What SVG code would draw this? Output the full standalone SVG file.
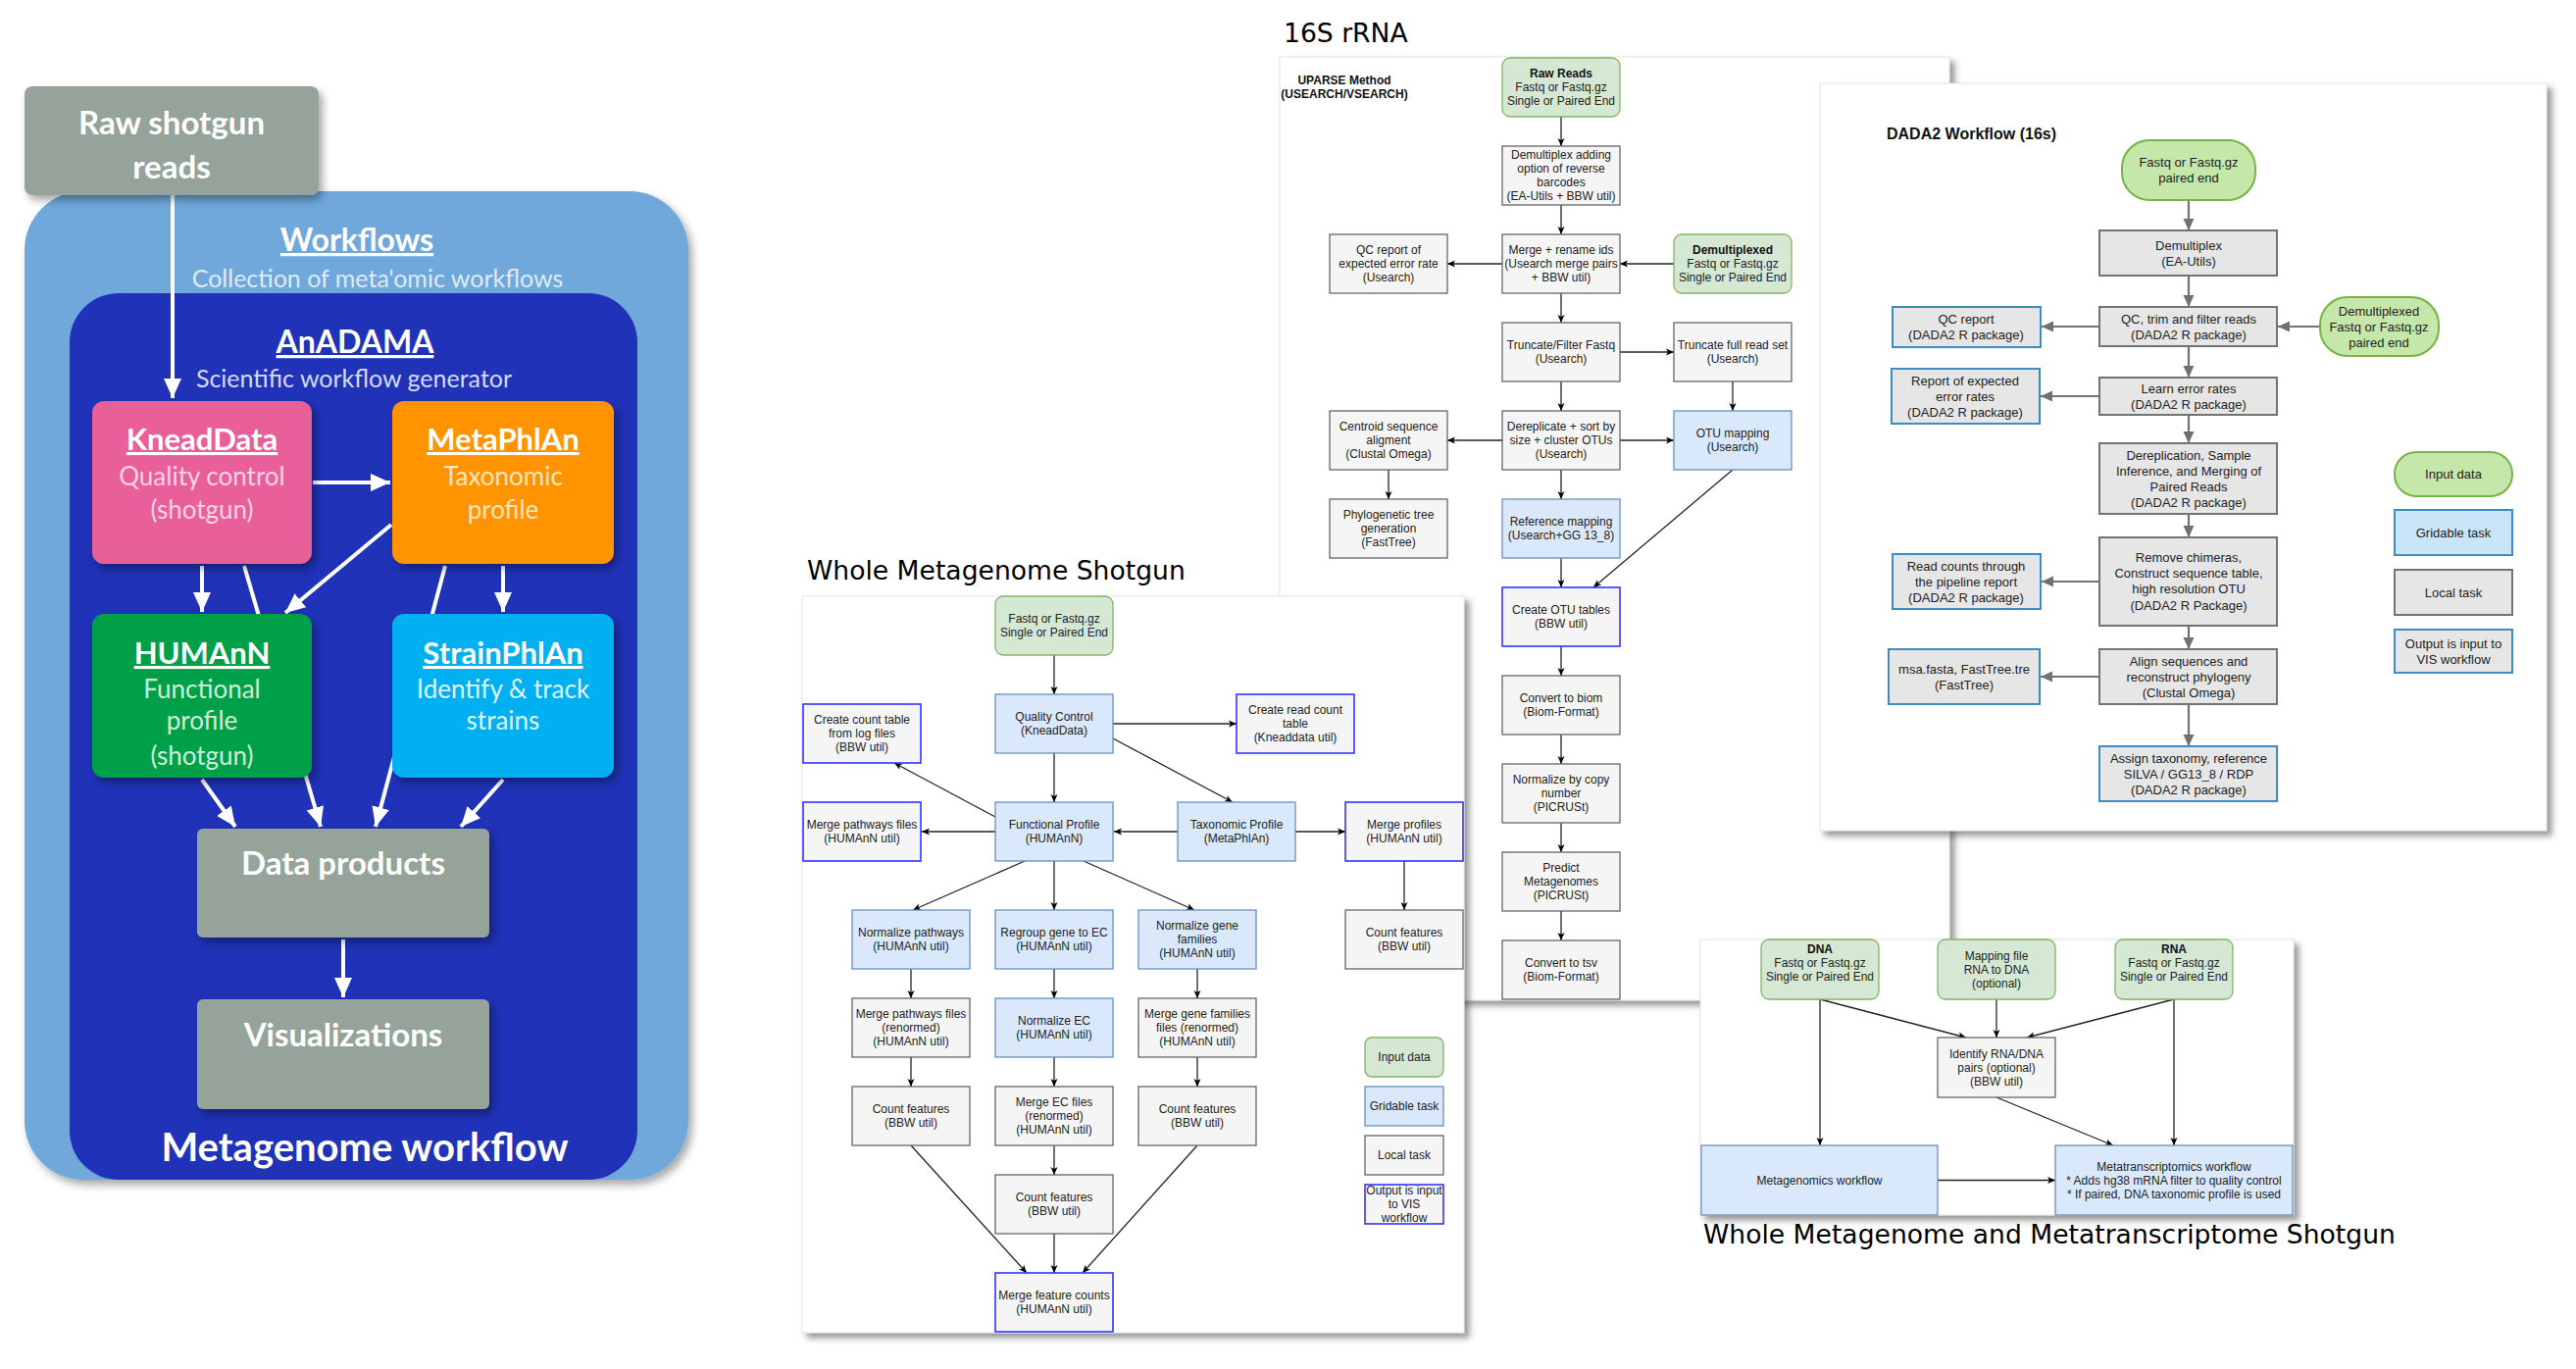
<svg xmlns="http://www.w3.org/2000/svg" width="2627" height="1396" viewBox="0 0 2627 1396">
<defs>
<style>
.L{font-family:Lato,"Open Sans","Liberation Sans",sans-serif;text-anchor:middle}
.Lb{font-family:Lato,"Open Sans","Liberation Sans",sans-serif;text-anchor:middle;font-weight:bold;fill:#fff}
.ttl{font-family:"DejaVu Sans",sans-serif;font-size:26.6px;fill:#000}
.t{font-family:"Liberation Sans",Arial,sans-serif;font-size:12px;fill:#222;text-anchor:middle}
.tb{font-family:"Liberation Sans",Arial,sans-serif;font-size:12px;fill:#111;text-anchor:middle;font-weight:bold}
.d{font-family:"Liberation Sans",Arial,sans-serif;font-size:13px;fill:#222;text-anchor:middle}
.gr{fill:#d5e8d4;stroke:#82b366;stroke-width:1.3}
.bl{fill:#dae8fc;stroke:#6c8ebf;stroke-width:1.3}
.gy{fill:#f5f5f5;stroke:#666;stroke-width:1.3}
.hb{fill:#f5f5f5;stroke:#3333ff;stroke-width:1.6}
.ln{stroke:#222;stroke-width:1.3;fill:none;marker-end:url(#ab)}
.dgy{fill:#e6e6e6;stroke:#737373;stroke-width:2}
.dhb{fill:#e6e6e6;stroke:#3d8dc4;stroke-width:2}
.dgr{fill:#c5e7a9;stroke:#77b445;stroke-width:2}
.dbl{fill:#c8e6f8;stroke:#3d8dc4;stroke-width:2}
.dln{stroke:#737373;stroke-width:2.2;fill:none;marker-end:url(#ag)}
.wl{stroke:#fff;stroke-width:4;fill:none}
.panel{fill:#fff;stroke:#e4e4e4;stroke-width:1;filter:url(#ps)}
</style>
<filter id="ps" x="-5%" y="-5%" width="112%" height="112%"><feDropShadow dx="5" dy="5" stdDeviation="3" flood-color="#444" flood-opacity="0.55"/></filter>
<filter id="ls" x="-10%" y="-10%" width="125%" height="125%"><feDropShadow dx="4" dy="5" stdDeviation="4" flood-color="#000" flood-opacity="0.35"/></filter>
<marker id="aw" viewBox="0 0 20 18" refX="20" refY="9" markerWidth="20" markerHeight="18" markerUnits="userSpaceOnUse" orient="auto"><path d="M0,0 L20,9 L0,18 Z" fill="#fff"/></marker>
<marker id="ab" viewBox="0 0 8 8" refX="8" refY="4" markerWidth="8" markerHeight="8" markerUnits="userSpaceOnUse" orient="auto"><path d="M0,0.5 L8,4 L0,7.5 L2,4 Z" fill="#000"/></marker>
<marker id="ag" viewBox="0 0 12 12" refX="12" refY="6" markerWidth="12" markerHeight="12" markerUnits="userSpaceOnUse" orient="auto"><path d="M0,0.5 L12,6 L0,11.5 Z" fill="#707070"/></marker>
</defs>
<rect width="2627" height="1396" fill="#fff"/>

<!-- ===== Left: Metagenome workflow ===== -->
<g id="left-containers">
<rect x="25" y="195" width="677" height="1008" rx="60" fill="#6fa8dc" filter="url(#ls)"/>
<rect x="71" y="299" width="579" height="904" rx="50" fill="#1f32b8"/>
<text class="Lb" x="364" y="256" font-size="32" text-decoration="underline">Workflows</text>
<text class="L" x="385" y="293" font-size="25" fill="#ddebf7">Collection of meta'omic workflows</text>
<text class="Lb" x="362" y="360" font-size="32" text-decoration="underline">AnADAMA</text>
<text class="L" x="361" y="395" font-size="25" fill="#d5dbf6">Scientific workflow generator</text>
<text class="Lb" x="372" y="1184" font-size="40">Metagenome workflow</text>
</g>
<g id="left-connectors">
<path class="wl" d="M176,199 V406" marker-end="url(#aw)"/>
<path class="wl" d="M319,492 H398" marker-end="url(#aw)"/>
<path class="wl" d="M206,577 V624" marker-end="url(#aw)"/>
<path class="wl" d="M249,577 L327,843" marker-end="url(#aw)"/>
<path class="wl" d="M399,535 L291,625" marker-end="url(#aw)"/>
<path class="wl" d="M454,577 L383,843" marker-end="url(#aw)"/>
<path class="wl" d="M513,577 V624" marker-end="url(#aw)"/>
<path class="wl" d="M206,795 L240,843" marker-end="url(#aw)"/>
<path class="wl" d="M513,795 L470,843" marker-end="url(#aw)"/>
<path class="wl" d="M350,958 V1017" marker-end="url(#aw)"/>
</g>
<g id="raw-reads">
<rect x="25" y="88" width="300" height="111" rx="8" fill="#95a39b" filter="url(#ls)"/>
<text class="Lb" x="175" y="137" font-size="33">Raw shotgun</text>
<text class="Lb" x="175" y="182" font-size="33">reads</text>
</g>
<g id="kneaddata">
<rect x="94" y="409" width="224" height="166" rx="12" fill="#e85e9a" filter="url(#ls)"/>
<text class="Lb" x="206" y="459" font-size="31" text-decoration="underline">KneadData</text>
<text class="L" x="206" y="495" font-size="26" fill="#fad3e4">Quality control</text>
<text class="L" x="206" y="529" font-size="26" fill="#fad3e4">(shotgun)</text>
</g>
<g id="metaphlan">
<rect x="400" y="409" width="226" height="166" rx="12" fill="#ff9400" filter="url(#ls)"/>
<text class="Lb" x="513" y="459" font-size="31" text-decoration="underline">MetaPhlAn</text>
<text class="L" x="513" y="495" font-size="26" fill="#ffe4bf">Taxonomic</text>
<text class="L" x="513" y="529" font-size="26" fill="#ffe4bf">profile</text>
</g>
<g id="humann">
<rect x="94" y="626" width="224" height="167" rx="12" fill="#00a04a" filter="url(#ls)"/>
<text class="Lb" x="206" y="677" font-size="31" text-decoration="underline">HUMAnN</text>
<text class="L" x="206" y="712" font-size="26" fill="#cfefda">Functional</text>
<text class="L" x="206" y="744" font-size="26" fill="#cfefda">profile</text>
<text class="L" x="206" y="780" font-size="26" fill="#cfefda">(shotgun)</text>
</g>
<g id="strainphlan">
<rect x="400" y="626" width="226" height="167" rx="12" fill="#00b0f0" filter="url(#ls)"/>
<text class="Lb" x="513" y="677" font-size="31" text-decoration="underline">StrainPhlAn</text>
<text class="L" x="513" y="712" font-size="26" fill="#dff5fd">Identify &amp; track</text>
<text class="L" x="513" y="744" font-size="26" fill="#dff5fd">strains</text>
</g>
<g id="data-products">
<rect x="201" y="845" width="298" height="111" rx="6" fill="#95a39b" filter="url(#ls)"/>
<text class="Lb" x="350" y="892" font-size="33">Data products</text>
</g>
<g id="visualizations">
<rect x="201" y="1019" width="298" height="112" rx="6" fill="#95a39b" filter="url(#ls)"/>
<text class="Lb" x="350" y="1067" font-size="33">Visualizations</text>
</g>

<!-- ===== Titles ===== -->
<text class="ttl" x="1309" y="43">16S rRNA</text>
<text class="ttl" x="823" y="591">Whole Metagenome Shotgun</text>
<text class="ttl" x="1737" y="1268">Whole Metagenome and Metatranscriptome Shotgun</text>

<!-- ===== 16S UPARSE panel ===== -->
<rect class="panel" x="1305" y="58" width="683" height="962"/>
<text class="tb" x="1371" y="86">UPARSE Method</text>
<text class="tb" x="1371" y="100">(USEARCH/VSEARCH)</text>
<g id="s16-connectors">
<path class="ln" d="M1592,119 V149"/>
<path class="ln" d="M1592,209 V239"/>
<path class="ln" d="M1532,269 H1476"/>
<path class="ln" d="M1707,269 H1652"/>
<path class="ln" d="M1592,299 V329"/>
<path class="ln" d="M1652,359 H1707"/>
<path class="ln" d="M1592,389 V419"/>
<path class="ln" d="M1767,389 V419"/>
<path class="ln" d="M1532,449 H1476"/>
<path class="ln" d="M1652,449 H1707"/>
<path class="ln" d="M1416,479 V509"/>
<path class="ln" d="M1592,479 V509"/>
<path class="ln" d="M1767,479 L1625,599"/>
<path class="ln" d="M1592,569 V599"/>
<path class="ln" d="M1592,659 V689"/>
<path class="ln" d="M1592,749 V779"/>
<path class="ln" d="M1592,839 V869"/>
<path class="ln" d="M1592,929 V959"/>
</g>
<g id="s16-raw"><rect class="gr" x="1532" y="59" width="120" height="60" rx="8"/><text class="tb" x="1592" y="79.3">Raw Reads</text><text class="t" x="1592" y="93.3">Fastq or Fastq.gz</text><text class="t" x="1592" y="107.3">Single or Paired End</text></g>
<g id="s16-demux"><rect class="gy" x="1532" y="149" width="120" height="60"/><text class="t" x="1592" y="162.3">Demultiplex adding</text><text class="t" x="1592" y="176.3">option of reverse</text><text class="t" x="1592" y="190.3">barcodes</text><text class="t" x="1592" y="204.3">(EA-Utils + BBW util)</text></g>
<g id="s16-merge"><rect class="gy" x="1532" y="239" width="120" height="60"/><text class="t" x="1592" y="259.3">Merge + rename ids</text><text class="t" x="1592" y="273.3">(Usearch merge pairs</text><text class="t" x="1592" y="287.3">+ BBW util)</text></g>
<g id="s16-qcreport"><rect class="gy" x="1356" y="239" width="120" height="60"/><text class="t" x="1416" y="259.3">QC report of</text><text class="t" x="1416" y="273.3">expected error rate</text><text class="t" x="1416" y="287.3">(Usearch)</text></g>
<g id="s16-demuxed"><rect class="gr" x="1707" y="239" width="120" height="60" rx="8"/><text class="tb" x="1767" y="259.3">Demultiplexed</text><text class="t" x="1767" y="273.3">Fastq or Fastq.gz</text><text class="t" x="1767" y="287.3">Single or Paired End</text></g>
<g id="s16-trunc"><rect class="gy" x="1532" y="329" width="120" height="60"/><text class="t" x="1592" y="356.3">Truncate/Filter Fastq</text><text class="t" x="1592" y="370.3">(Usearch)</text></g>
<g id="s16-truncfull"><rect class="gy" x="1707" y="329" width="120" height="60"/><text class="t" x="1767" y="356.3">Truncate full read set</text><text class="t" x="1767" y="370.3">(Usearch)</text></g>
<g id="s16-derep"><rect class="gy" x="1532" y="419" width="120" height="60"/><text class="t" x="1592" y="439.3">Dereplicate + sort by</text><text class="t" x="1592" y="453.3">size + cluster OTUs</text><text class="t" x="1592" y="467.3">(Usearch)</text></g>
<g id="s16-centroid"><rect class="gy" x="1356" y="419" width="120" height="60"/><text class="t" x="1416" y="439.3">Centroid sequence</text><text class="t" x="1416" y="453.3">aligment</text><text class="t" x="1416" y="467.3">(Clustal Omega)</text></g>
<g id="s16-otumap"><rect class="bl" x="1707" y="419" width="120" height="60"/><text class="t" x="1767" y="446.3">OTU mapping</text><text class="t" x="1767" y="460.3">(Usearch)</text></g>
<g id="s16-phylo"><rect class="gy" x="1356" y="509" width="120" height="60"/><text class="t" x="1416" y="529.3">Phylogenetic tree</text><text class="t" x="1416" y="543.3">generation</text><text class="t" x="1416" y="557.3">(FastTree)</text></g>
<g id="s16-refmap"><rect class="bl" x="1532" y="509" width="120" height="60"/><text class="t" x="1592" y="536.3">Reference mapping</text><text class="t" x="1592" y="550.3">(Usearch+GG 13_8)</text></g>
<g id="s16-otutab"><rect class="hb" x="1532" y="599" width="120" height="60"/><text class="t" x="1592" y="626.3">Create OTU tables</text><text class="t" x="1592" y="640.3">(BBW util)</text></g>
<g id="s16-biom"><rect class="gy" x="1532" y="689" width="120" height="60"/><text class="t" x="1592" y="716.3">Convert to biom</text><text class="t" x="1592" y="730.3">(Biom-Format)</text></g>
<g id="s16-norm"><rect class="gy" x="1532" y="779" width="120" height="60"/><text class="t" x="1592" y="799.3">Normalize by copy</text><text class="t" x="1592" y="813.3">number</text><text class="t" x="1592" y="827.3">(PICRUSt)</text></g>
<g id="s16-predict"><rect class="gy" x="1532" y="869" width="120" height="60"/><text class="t" x="1592" y="889.3">Predict</text><text class="t" x="1592" y="903.3">Metagenomes</text><text class="t" x="1592" y="917.3">(PICRUSt)</text></g>
<g id="s16-tsv"><rect class="gy" x="1532" y="959" width="120" height="60"/><text class="t" x="1592" y="986.3">Convert to tsv</text><text class="t" x="1592" y="1000.3">(Biom-Format)</text></g>

<!-- ===== DADA2 panel ===== -->
<rect class="panel" x="1856" y="85" width="741" height="762"/>
<text x="1924" y="142" font-family="Liberation Sans, Arial, sans-serif" font-size="16" font-weight="bold" fill="#111">DADA2 Workflow (16s)</text>
<g id="dada2-connectors">
<path class="dln" d="M2232,204 V235"/>
<path class="dln" d="M2232,281 V313"/>
<path class="dln" d="M2141,333 H2082"/>
<path class="dln" d="M2366,333 H2323"/>
<path class="dln" d="M2232,353 V385"/>
<path class="dln" d="M2141,404 H2081"/>
<path class="dln" d="M2232,423 V452"/>
<path class="dln" d="M2232,524 V548"/>
<path class="dln" d="M2141,593 H2082"/>
<path class="dln" d="M2232,638 V662"/>
<path class="dln" d="M2141,690 H2081"/>
<path class="dln" d="M2232,718 V761"/>
</g>
<g id="d-fastq"><rect class="dgr" x="2164" y="143" width="136" height="61" rx="28"/><text class="d" x="2232" y="170">Fastq or Fastq.gz</text><text class="d" x="2232" y="186">paired end</text></g>
<g id="d-demux"><rect class="dgy" x="2141" y="235" width="181" height="46"/><text class="d" x="2232" y="254.5">Demultiplex</text><text class="d" x="2232" y="270.5">(EA-Utils)</text></g>
<g id="d-qctrim"><rect class="dgy" x="2141" y="313" width="181" height="40"/><text class="d" x="2232" y="329.5">QC, trim and filter reads</text><text class="d" x="2232" y="345.5">(DADA2 R package)</text></g>
<g id="d-qcreport"><rect class="dhb" x="1930" y="313" width="151" height="41"/><text class="d" x="2005" y="329.5">QC report</text><text class="d" x="2005" y="345.5">(DADA2 R package)</text></g>
<g id="d-demuxed"><rect class="dgr" x="2366" y="303" width="121" height="60" rx="28"/><text class="d" x="2426" y="321.5">Demultiplexed</text><text class="d" x="2426" y="337.5">Fastq or Fastq.gz</text><text class="d" x="2426" y="353.5">paired end</text></g>
<g id="d-learn"><rect class="dgy" x="2141" y="385" width="181" height="38"/><text class="d" x="2232" y="400.5">Learn error rates</text><text class="d" x="2232" y="416.5">(DADA2 R package)</text></g>
<g id="d-report"><rect class="dhb" x="1929" y="376" width="151" height="56"/><text class="d" x="2004" y="392.5">Report of expected</text><text class="d" x="2004" y="408.5">error rates</text><text class="d" x="2004" y="424.5">(DADA2 R package)</text></g>
<g id="d-derep"><rect class="dgy" x="2141" y="452" width="181" height="72"/><text class="d" x="2232" y="468.5">Dereplication, Sample</text><text class="d" x="2232" y="484.5">Inference, and Merging of</text><text class="d" x="2232" y="500.5">Paired Reads</text><text class="d" x="2232" y="516.5">(DADA2 R package)</text></g>
<g id="d-chimeras"><rect class="dgy" x="2141" y="548" width="181" height="90"/><text class="d" x="2232" y="572.5">Remove chimeras,</text><text class="d" x="2232" y="588.5">Construct sequence table,</text><text class="d" x="2232" y="604.5">high resolution OTU</text><text class="d" x="2232" y="621.5">(DADA2 R Package)</text></g>
<g id="d-readcounts"><rect class="dhb" x="1930" y="565" width="151" height="56"/><text class="d" x="2005" y="581.5">Read counts through</text><text class="d" x="2005" y="597.5">the pipeline report</text><text class="d" x="2005" y="613.5">(DADA2 R package)</text></g>
<g id="d-align"><rect class="dgy" x="2141" y="662" width="181" height="56"/><text class="d" x="2232" y="678.5">Align sequences and</text><text class="d" x="2232" y="694.5">reconstruct phylogeny</text><text class="d" x="2232" y="710.5">(Clustal Omega)</text></g>
<g id="d-msa"><rect class="dhb" x="1926" y="662" width="154" height="56"/><text class="d" x="2003" y="686.5">msa.fasta, FastTree.tre</text><text class="d" x="2003" y="702.5">(FastTree)</text></g>
<g id="d-assign"><rect class="dhb" x="2141" y="761" width="181" height="56"/><text class="d" x="2232" y="777.5">Assign taxonomy, reference</text><text class="d" x="2232" y="793.5">SILVA / GG13_8 / RDP</text><text class="d" x="2232" y="809.5">(DADA2 R package)</text></g>
<g id="d-legend-input"><rect class="dgr" x="2442" y="461" width="120" height="45" rx="22"/><text class="d" x="2502" y="488">Input data</text></g>
<g id="d-legend-grid"><rect class="dbl" x="2442" y="520" width="120" height="46"/><text class="d" x="2502" y="547.5">Gridable task</text></g>
<g id="d-legend-local"><rect class="dgy" x="2442" y="581" width="120" height="46"/><text class="d" x="2502" y="608.5">Local task</text></g>
<g id="d-legend-vis"><rect class="dhb" x="2442" y="642" width="120" height="44"/><text class="d" x="2502" y="660.5">Output is input to</text><text class="d" x="2502" y="676.5">VIS workflow</text></g>

<!-- ===== Metatranscriptome panel ===== -->
<rect class="panel" x="1734" y="958" width="605" height="281"/>
<g id="mtx-connectors">
<path class="ln" d="M1856,1019 V1168"/>
<path class="ln" d="M1856,1019 L2005,1058"/>
<path class="ln" d="M2036,1019 V1058"/>
<path class="ln" d="M2217,1019 L2067,1058"/>
<path class="ln" d="M2217,1019 V1168"/>
<path class="ln" d="M2036,1119 L2155,1168"/>
<path class="ln" d="M1976,1203.5 H2096"/>
</g>
<g id="mtx-dna"><rect class="gr" x="1796" y="958" width="120" height="61" rx="8"/><text class="tb" x="1856" y="971.8">DNA</text><text class="t" x="1856" y="985.8">Fastq or Fastq.gz</text><text class="t" x="1856" y="999.8">Single or Paired End</text></g>
<g id="mtx-mapping"><rect class="gr" x="1976" y="958" width="120" height="61" rx="8"/><text class="t" x="2036" y="978.8">Mapping file</text><text class="t" x="2036" y="992.8">RNA to DNA</text><text class="t" x="2036" y="1006.8">(optional)</text></g>
<g id="mtx-rna"><rect class="gr" x="2157" y="958" width="120" height="61" rx="8"/><text class="tb" x="2217" y="971.8">RNA</text><text class="t" x="2217" y="985.8">Fastq or Fastq.gz</text><text class="t" x="2217" y="999.8">Single or Paired End</text></g>
<g id="mtx-identify"><rect class="gy" x="1976" y="1058" width="120" height="61"/><text class="t" x="2036" y="1078.8">Identify RNA/DNA</text><text class="t" x="2036" y="1092.8">pairs (optional)</text><text class="t" x="2036" y="1106.8">(BBW util)</text></g>
<g id="mtx-metagenomics"><rect class="bl" x="1735" y="1168" width="241" height="71"/><text class="t" x="1855.5" y="1207.8">Metagenomics workflow</text></g>
<g id="mtx-metatranscriptomics"><rect class="bl" x="2096" y="1168" width="242" height="71"/><text class="t" x="2217" y="1193.8">Metatranscriptomics workflow</text><text class="t" x="2217" y="1207.8">* Adds hg38 mRNA filter to quality control</text><text class="t" x="2217" y="1221.8">* If paired, DNA taxonomic profile is used</text></g>

<!-- ===== Whole Metagenome Shotgun panel ===== -->
<rect class="panel" x="818" y="608" width="675" height="751"/>
<g id="wms-connectors">
<path class="ln" d="M1075,668 V708"/>
<path class="ln" d="M1135,738 H1261"/>
<path class="ln" d="M1135,753 L1257,818"/>
<path class="ln" d="M1075,768 V818"/>
<path class="ln" d="M1015,833 L912,778"/>
<path class="ln" d="M1015,848 H940"/>
<path class="ln" d="M1201,848 H1136"/>
<path class="ln" d="M1321,848 H1372"/>
<path class="ln" d="M1045,878 L931,928"/>
<path class="ln" d="M1075,878 V928"/>
<path class="ln" d="M1105,878 L1218,928"/>
<path class="ln" d="M1432,878 V928"/>
<path class="ln" d="M929,988 V1018"/>
<path class="ln" d="M1075,988 V1018"/>
<path class="ln" d="M1221,988 V1018"/>
<path class="ln" d="M929,1078 V1108"/>
<path class="ln" d="M1075,1078 V1108"/>
<path class="ln" d="M1221,1078 V1108"/>
<path class="ln" d="M1075,1168 V1198"/>
<path class="ln" d="M1075,1258 V1298"/>
<path class="ln" d="M929,1168 L1047,1298"/>
<path class="ln" d="M1221,1168 L1104,1298"/>
</g>
<g id="wms-fastq"><rect class="gr" x="1015" y="608" width="120" height="60" rx="8"/><text class="t" x="1075" y="635.3">Fastq or Fastq.gz</text><text class="t" x="1075" y="649.3">Single or Paired End</text></g>
<g id="wms-qc"><rect class="bl" x="1015" y="708" width="120" height="60"/><text class="t" x="1075" y="735.3">Quality Control</text><text class="t" x="1075" y="749.3">(KneadData)</text></g>
<g id="wms-readcount"><rect class="hb" x="1261" y="708" width="120" height="60"/><text class="t" x="1321" y="728.3">Create read count</text><text class="t" x="1321" y="742.3">table</text><text class="t" x="1321" y="756.3">(Kneaddata util)</text></g>
<g id="wms-logcount"><rect class="hb" x="819" y="718" width="120" height="60"/><text class="t" x="879" y="738.3">Create count table</text><text class="t" x="879" y="752.3">from log files</text><text class="t" x="879" y="766.3">(BBW util)</text></g>
<g id="wms-functional"><rect class="bl" x="1015" y="818" width="120" height="60"/><text class="t" x="1075" y="845.3">Functional Profile</text><text class="t" x="1075" y="859.3">(HUMAnN)</text></g>
<g id="wms-taxonomic"><rect class="bl" x="1201" y="818" width="120" height="60"/><text class="t" x="1261" y="845.3">Taxonomic Profile</text><text class="t" x="1261" y="859.3">(MetaPhlAn)</text></g>
<g id="wms-mergepath"><rect class="hb" x="819" y="818" width="120" height="60"/><text class="t" x="879" y="845.3">Merge pathways files</text><text class="t" x="879" y="859.3">(HUMAnN util)</text></g>
<g id="wms-mergeprof"><rect class="hb" x="1372" y="818" width="120" height="60"/><text class="t" x="1432" y="845.3">Merge profiles</text><text class="t" x="1432" y="859.3">(HUMAnN util)</text></g>
<g id="wms-normpath"><rect class="bl" x="869" y="928" width="120" height="60"/><text class="t" x="929" y="955.3">Normalize pathways</text><text class="t" x="929" y="969.3">(HUMAnN util)</text></g>
<g id="wms-regroup"><rect class="bl" x="1015" y="928" width="120" height="60"/><text class="t" x="1075" y="955.3">Regroup gene to EC</text><text class="t" x="1075" y="969.3">(HUMAnN util)</text></g>
<g id="wms-normgene"><rect class="bl" x="1161" y="928" width="120" height="60"/><text class="t" x="1221" y="948.3">Normalize gene</text><text class="t" x="1221" y="962.3">families</text><text class="t" x="1221" y="976.3">(HUMAnN util)</text></g>
<g id="wms-count-prof"><rect class="gy" x="1372" y="928" width="120" height="60"/><text class="t" x="1432" y="955.3">Count features</text><text class="t" x="1432" y="969.3">(BBW util)</text></g>
<g id="wms-mergepath-ren"><rect class="gy" x="869" y="1018" width="120" height="60"/><text class="t" x="929" y="1038.3">Merge pathways files</text><text class="t" x="929" y="1052.3">(renormed)</text><text class="t" x="929" y="1066.3">(HUMAnN util)</text></g>
<g id="wms-normec"><rect class="bl" x="1015" y="1018" width="120" height="60"/><text class="t" x="1075" y="1045.3">Normalize EC</text><text class="t" x="1075" y="1059.3">(HUMAnN util)</text></g>
<g id="wms-mergegene"><rect class="gy" x="1161" y="1018" width="120" height="60"/><text class="t" x="1221" y="1038.3">Merge gene families</text><text class="t" x="1221" y="1052.3">files (renormed)</text><text class="t" x="1221" y="1066.3">(HUMAnN util)</text></g>
<g id="wms-count-path"><rect class="gy" x="869" y="1108" width="120" height="60"/><text class="t" x="929" y="1135.3">Count features</text><text class="t" x="929" y="1149.3">(BBW util)</text></g>
<g id="wms-mergeec"><rect class="gy" x="1015" y="1108" width="120" height="60"/><text class="t" x="1075" y="1128.3">Merge EC files</text><text class="t" x="1075" y="1142.3">(renormed)</text><text class="t" x="1075" y="1156.3">(HUMAnN util)</text></g>
<g id="wms-count-gene"><rect class="gy" x="1161" y="1108" width="120" height="60"/><text class="t" x="1221" y="1135.3">Count features</text><text class="t" x="1221" y="1149.3">(BBW util)</text></g>
<g id="wms-count-ec"><rect class="gy" x="1015" y="1198" width="120" height="60"/><text class="t" x="1075" y="1225.3">Count features</text><text class="t" x="1075" y="1239.3">(BBW util)</text></g>
<g id="wms-mergefeat"><rect class="hb" x="1015" y="1298" width="120" height="60"/><text class="t" x="1075" y="1325.3">Merge feature counts</text><text class="t" x="1075" y="1339.3">(HUMAnN util)</text></g>
<g id="wms-legend-input"><rect class="gr" x="1392" y="1058" width="80" height="40" rx="7"/><text class="t" x="1432" y="1082.3">Input data</text></g>
<g id="wms-legend-grid"><rect class="bl" x="1392" y="1108" width="80" height="40"/><text class="t" x="1432" y="1132.3">Gridable task</text></g>
<g id="wms-legend-local"><rect class="gy" x="1392" y="1158" width="80" height="40"/><text class="t" x="1432" y="1182.3">Local task</text></g>
<g id="wms-legend-vis"><rect class="hb" x="1392" y="1208" width="80" height="40"/><text class="t" x="1432" y="1218.3">Output is input</text><text class="t" x="1432" y="1232.3">to VIS</text><text class="t" x="1432" y="1246.3">workflow</text></g>
</svg>
